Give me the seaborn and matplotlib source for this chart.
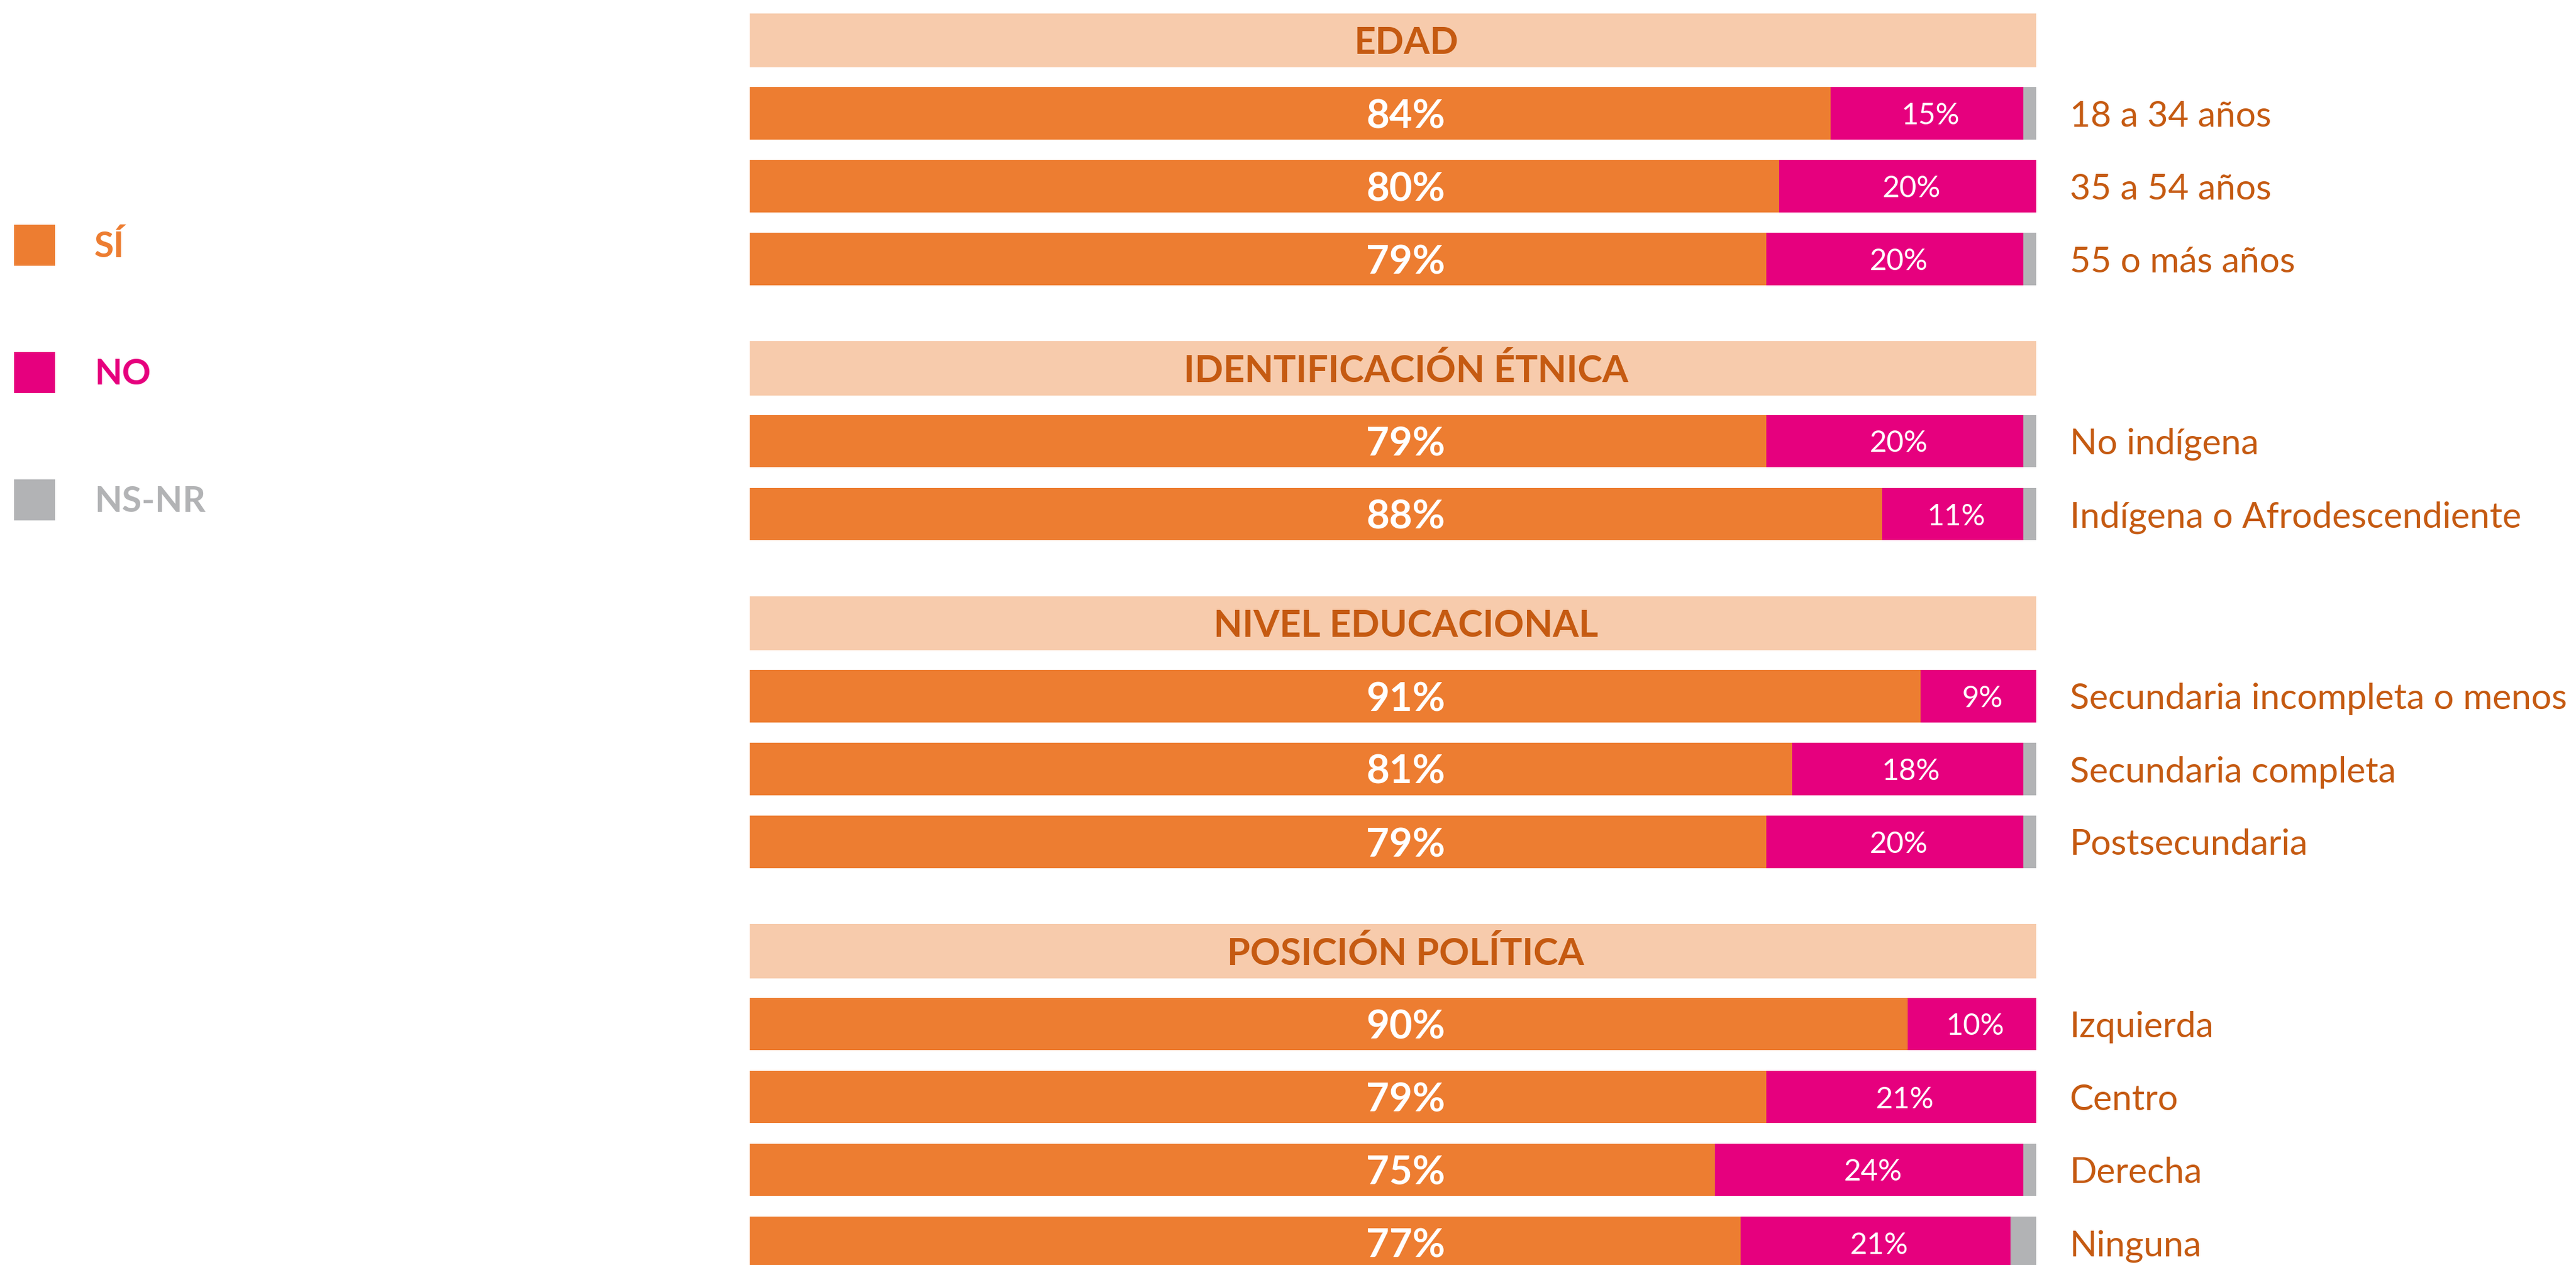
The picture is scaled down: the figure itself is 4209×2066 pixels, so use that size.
import pandas as pd
import numpy as np
import matplotlib.pyplot as plt
import seaborn as sns
from matplotlib.patches import Rectangle

# Data
groups = ['EDAD', 'IDENTIFICACIÓN ÉTNICA', 'NIVEL EDUCACIONAL', 'POSICIÓN POLÍTICA']
categories = [
    ['18 a 34 años', '35 a 54 años', '55 o más años'],
    ['No indígena', 'Indígena o Afrodescendiente'],
    ['Secundaria incompleta o menos', 'Secundaria completa', 'Postsecundaria'],
    ['Izquierda', 'Centro', 'Derecha', 'Ninguna'],
]
si = [84, 80, 79, 79, 88, 91, 81, 79, 90, 79, 75, 77]
no = [15, 20, 20, 20, 11, 9, 18, 20, 10, 21, 24, 21]
ns = [1, 0, 1, 1, 1, 0, 1, 1, 0, 0, 1, 2]

ORANGE = '#ED7D31'
PINK = '#E6007E'
GRAY = '#B2B3B5'
HEAD_BG = '#F7CBAC'
DARK = '#C55A11'

sns.set_theme(style='white')
plt.rcParams['font.family'] = ['Lato', 'DejaVu Sans']

# row positions: header, then its bars, 1.5 rows gap before next header
header_pos = []
bar_pos = []
labels = []
y = 0.0
for g, cats in zip(groups, categories):
    header_pos.append(y)
    for c in cats:
        y += 1
        bar_pos.append(y)
        labels.append(c)
    y += 1.5

df = pd.DataFrame({'pos': bar_pos, 'label': labels, 'si': si, 'no': no, 'ns': ns})
df['si_no'] = df['si'] + df['no']
df['total'] = df['si_no'] + df['ns']

W, H = 4209, 2066
fig = plt.figure(figsize=(W / 100, H / 100), dpi=100)
fig.patch.set_facecolor('white')

# legend drawn in pixel coordinates
lax = fig.add_axes([0, 0, 1, 1])
lax.set_xlim(0, W)
lax.set_ylim(H, 0)
lax.axis('off')
legend_items = [('SÍ', ORANGE), ('NO', PINK), ('NS-NR', GRAY)]
for i, (name, col) in enumerate(legend_items):
    top = 367 + i * 208
    lax.add_patch(Rectangle((23, top), 67, 67, color=col, lw=0))
    lax.text(154, top + 53, name, color=col, fontsize=42, fontweight='bold',
             va='baseline', ha='left')

pitch = 119
ax = fig.add_axes([1225 / W, 0, 2102 / W, 1])
ax.set_facecolor('none')

# headers
ax.barh(header_pos, [100] * len(header_pos), height=0.74, color=HEAD_BG, lw=0)
for g, p in zip(groups, header_pos):
    ax.text(51, p + 22 / pitch, g, color=DARK, fontsize=44, fontweight='bold',
            ha='center', va='baseline')

# stacked bars, drawn back to front
for col, colour in [('total', GRAY), ('si_no', PINK), ('si', ORANGE)]:
    sns.barplot(data=df, x=col, y='pos', orient='h', native_scale=True,
                color=colour, saturation=1, width=0.72, errorbar=None,
                linewidth=0, ax=ax)

for _, r in df.iterrows():
    ax.text(51, r['pos'], f"{r['si']}%", color='white', fontsize=47,
            fontweight='bold', ha='center', va='center_baseline')
    ax.text(r['si'] + r['no'] / 2 + 0.3, r['pos'], f"{r['no']}%", color='white',
            fontsize=35, ha='center', va='center_baseline')
    ax.text(102.6, r['pos'], r['label'], color=DARK, fontsize=42,
            ha='left', va='center_baseline', clip_on=False)

ax.set_xlim(0, 100)
ax.set_ylim((H - 66) / pitch, -66 / pitch)
ax.axis('off')

plt.savefig('out.png', dpi=100, facecolor='white')
